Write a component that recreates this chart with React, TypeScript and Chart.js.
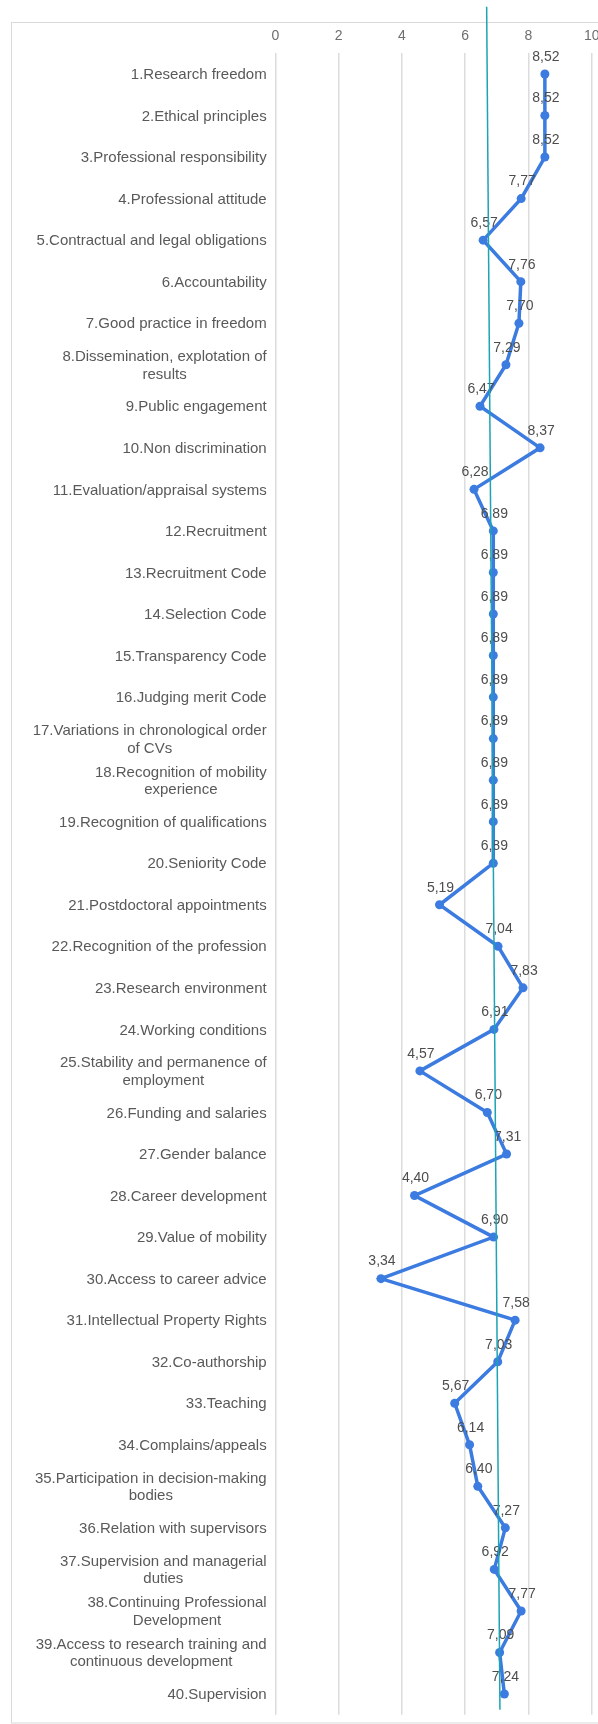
import React, { useEffect, useRef } from "react";
import { Chart, registerables } from "chart.js";

Chart.register(...registerables);

const CATEGORIES: (string | string[])[] = [
  "1.Research freedom",
  "2.Ethical principles",
  "3.Professional responsibility",
  "4.Professional attitude",
  "5.Contractual and legal obligations",
  "6.Accountability",
  "7.Good practice in freedom",
  ["8.Dissemination, explotation of", "results"],
  "9.Public engagement",
  "10.Non discrimination",
  "11.Evaluation/appraisal systems",
  "12.Recruitment",
  "13.Recruitment Code",
  "14.Selection Code",
  "15.Transparency Code",
  "16.Judging merit Code",
  ["17.Variations in chronological order", "of CVs"],
  ["18.Recognition of mobility", "experience"],
  "19.Recognition of qualifications",
  "20.Seniority Code",
  "21.Postdoctoral appointments",
  "22.Recognition of the profession",
  "23.Research environment",
  "24.Working conditions",
  ["25.Stability and permanence of", "employment"],
  "26.Funding and salaries",
  "27.Gender balance",
  "28.Career development",
  "29.Value of mobility",
  "30.Access to career advice",
  "31.Intellectual Property Rights",
  "32.Co-authorship",
  "33.Teaching",
  "34.Complains/appeals",
  ["35.Participation in decision-making", "bodies"],
  "36.Relation with supervisors",
  ["37.Supervision and managerial", "duties"],
  ["38.Continuing Professional", "Development"],
  ["39.Access to research training and", "continuous development"],
  "40.Supervision",
];

const SCORES: number[] = [
  8.52, 8.52, 8.52, 7.77, 6.57, 7.76, 7.7, 7.29, 6.47, 8.37,
  6.28, 6.89, 6.89, 6.89, 6.89, 6.89, 6.89, 6.89, 6.89, 6.89,
  5.19, 7.04, 7.83, 6.91, 4.57, 6.7, 7.31, 4.4, 6.9, 3.34,
  7.58, 7.03, 5.67, 6.14, 6.4, 7.27, 6.92, 7.77, 7.09, 7.24,
];

const X_MIN = 0;
const X_MAX = 10;
const X_STEP = 2;

// reference (teal) line: value at top, value at bottom
const REF_LINE: number[] = [6.68, 7.1];

const FONT = '"Liberation Sans", Arial, sans-serif';
const BLUE = "#3c7be0";
const TEAL = "#1ca3b4";

const overlayPlugin = {
  id: "overlay",
  beforeDraw(chart: any) {
    const ctx = chart.ctx;
    ctx.save();
    ctx.fillStyle = "#ffffff";
    ctx.fillRect(0, 0, chart.width, chart.height);
    ctx.strokeStyle = "#d9d9d9";
    ctx.lineWidth = 1;
    ctx.strokeRect(11.5, 22.5, 1000, 1700.5);
    ctx.restore();
  },
  afterDraw(chart: any) {
    const ctx = chart.ctx;
    const yScale = chart.scales.y;
    const xScale = chart.scales.x;
    const area = chart.chartArea;
    ctx.save();
    // category labels: block right-aligned, lines centered within block
    ctx.font = `15px ${FONT}`;
    ctx.fillStyle = "#595959";
    ctx.textAlign = "center";
    ctx.textBaseline = "middle";
    const rightEdge = area.left - 8.6;
    const lineH = 17.5;
    CATEGORIES.forEach((lab, i) => {
      const lines = Array.isArray(lab) ? lab : [lab];
      const yc = yScale.getPixelForTick(i);
      const blockW = Math.max(...lines.map((l) => ctx.measureText(l).width));
      const cx = rightEdge - blockW / 2;
      lines.forEach((l, j) => {
        ctx.fillText(l, cx, yc + (j - (lines.length - 1) / 2) * lineH + 1);
      });
    });
    // data labels
    ctx.font = `14px ${FONT}`;
    ctx.fillStyle = "#4d4d4d";
    const meta = chart.getDatasetMeta(0);
    meta.data.forEach((pt: any, i: number) => {
      const txt = SCORES[i].toFixed(2).replace(".", ",");
      ctx.fillText(txt, pt.x + 1, pt.y - 17);
    });
    // teal reference line
    ctx.strokeStyle = TEAL;
    ctx.lineWidth = 1.5;
    ctx.beginPath();
    ctx.moveTo(xScale.getPixelForValue(REF_LINE[0]), area.top - 46.5);
    ctx.lineTo(xScale.getPixelForValue(REF_LINE[1]), area.bottom - 5);
    ctx.stroke();
    ctx.restore();
  },
};

export default function App() {
  const ref = useRef<HTMLCanvasElement | null>(null);
  useEffect(() => {
    if (!ref.current) return;
    const chart = new Chart(ref.current, {
      type: "line",
      data: {
        labels: CATEGORIES as any,
        datasets: [
          {
            data: SCORES,
            borderColor: BLUE,
            backgroundColor: BLUE,
            borderWidth: 3.5,
            pointRadius: 4.5,
            pointBackgroundColor: BLUE,
            pointBorderColor: BLUE,
            pointBorderWidth: 0,
            tension: 0,
          },
        ],
      },
      options: {
        indexAxis: "y",
        responsive: false,
        animation: false,
        devicePixelRatio: 1,
        layout: { padding: { left: 0, right: 6.3, top: 0, bottom: 9.2 } },
        plugins: {
          legend: { display: false },
          tooltip: { enabled: false },
        },
        scales: {
          x: {
            type: "linear",
            position: "top",
            min: X_MIN,
            max: X_MAX,
            ticks: {
              stepSize: X_STEP,
              color: "#6e6e6e",
              font: { family: FONT, size: 14 },
              padding: 9,
            },
            grid: { color: "#dcdcdc", lineWidth: 1.5, drawTicks: false },
            border: { display: false },
            afterFit: (s: any) => {
              s.height = 53.2;
              s.paddingLeft = 0;
              s.paddingRight = 0;
            },
          },
          y: {
            type: "category",
            offset: true,
            ticks: { display: false },
            grid: { display: false },
            border: { display: false },
            afterFit: (s: any) => {
              s.width = 275.3;
              s.paddingTop = 0;
              s.paddingBottom = 0;
            },
          },
        },
      } as any,
      plugins: [overlayPlugin],
    });
    return () => chart.destroy();
  }, []);
  return (
    <div style={{ position: "absolute", left: 0, top: 0, width: 598, height: 1724 }}>
      <canvas ref={ref} width={598} height={1724} style={{ display: "block" }} />
    </div>
  );
}
